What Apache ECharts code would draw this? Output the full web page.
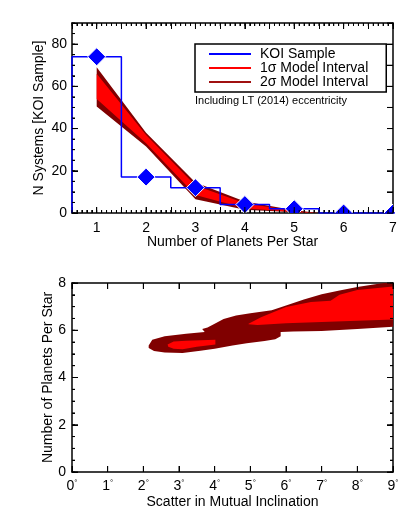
<!DOCTYPE html>
<html>
<head>
<meta charset="utf-8">
<script src="https://cdn.jsdelivr.net/npm/echarts@6/dist/echarts.min.js"></script>
<style>
  html, body { margin: 0; background: #fff; }
  #main { width: 415px; height: 519px; }
</style>
</head>
<body>
<div id="main"></div>
<script>
// top panel: KOI sample histogram
const planetCounts = [1, 2, 3, 4, 5, 6, 7];
const koiSystems = [74, 17, 12, 4, 2, 0, 0];

// model intervals (top panel)
const modelX = [1, 2, 3, 4, 5, 5.5];
const sig2Low = [50.5, 31.5, 6.5, 1.5, 0.3, 0];
const sig2High = [69, 38, 14.5, 5.5, 1.3, 0];
const sig1Low = [54, 33, 8.5, 2.3, 0.5, 0];
const sig1High = [66, 37, 13, 4.6, 1.0, 0];

// bottom panel contours [scatter deg, planets per star]
const contour2Sigma = [
  [2.15, 5.35], [2.25, 5.6], [2.6, 5.75], [3.2, 5.85], [3.72, 5.93], [3.65, 6.05],
  [3.8, 6.12], [4.0, 6.28], [4.25, 6.48], [4.6, 6.62], [5.0, 6.72], [5.6, 6.85],
  [6.0, 7.05], [6.5, 7.3], [7.0, 7.52], [7.5, 7.68], [8.0, 7.83], [8.5, 7.95], [9.0, 8.05],
  [9.0, 6.15], [8.0, 6.05], [7.0, 5.97], [6.2, 5.95], [5.85, 5.93], [5.85, 5.75],
  [5.7, 5.62], [5.4, 5.55], [4.9, 5.45], [4.5, 5.35], [4.0, 5.22], [3.6, 5.13],
  [3.1, 5.04], [2.6, 5.06], [2.3, 5.12], [2.15, 5.25]
];
const contour1SigmaA = [
  [2.68, 5.4], [2.85, 5.52], [3.2, 5.56], [4.02, 5.6], [4.02, 5.4], [3.5, 5.3],
  [3.1, 5.2], [2.85, 5.22], [2.7, 5.3]
];
const contour1SigmaB = [
  [4.95, 6.27], [5.3, 6.55], [6.0, 6.98], [6.7, 7.2], [7.25, 7.25], [7.5, 7.5],
  [8.0, 7.7], [8.5, 7.78], [9.0, 7.85], [9.0, 6.45], [8.0, 6.4], [7.0, 6.35],
  [6.0, 6.3], [5.2, 6.22], [4.95, 6.25]
];

// tick marks per panel
const topXTicks = { from: 0.5, to: 7, major: 1, minor: 0.1 };
const topYTicks = { from: 0, to: 90, major: 20, minor: 5, right: 10 };
const botXTicks = { from: 0, to: 9, major: 1, minor: null };
const botYTicks = { from: 0, to: 8, major: 2, minor: 0.5, right: 2 };

const BLUE = "#0000ff";
const RED = "#ff0000";
const DARK = "#800000";
const FONT = "Liberation Sans";

// step outline of the histogram
const histPoints = [[planetCounts[0] - 0.5, 0]];
planetCounts.forEach((n, i) => {
  histPoints.push([n - 0.5, koiSystems[i]]);
  histPoints.push([n + 0.5, koiSystems[i]]);
});

const bandPoints = (xs, lo, hi) =>
  xs.map((x, i) => [x, hi[i]]).concat(xs.map((x, i) => [x, lo[i]]).reverse());

const polygonSeries = (name, pts, color, axisIdx) => ({
  name: name,
  type: "custom",
  xAxisIndex: axisIdx,
  yAxisIndex: axisIdx,
  clip: true,
  z: 1,
  data: [0],
  renderItem: (params, api) => ({
    type: "polygon",
    shape: { points: pts.map((p) => api.coord(p)) },
    style: { fill: color },
  }),
});

// tick list: [value, side, length]; side 0 bottom, 1 top, 2 left, 3 right
const stepValues = (from, to, step) => {
  const out = [];
  if (!step) return out;
  const start = Math.ceil(from / step - 1e-9) * step;
  for (let v = start; v <= to + 1e-9; v += step) out.push(Math.round(v * 1000) / 1000);
  return out;
};
const tickItems = (xt, yt) => {
  const items = [];
  stepValues(xt.from, xt.to, xt.major).forEach((v) => items.push([v, 0, 6], [v, 1, 6]));
  stepValues(xt.from, xt.to, xt.minor).forEach((v) => items.push([v, 0, 3], [v, 1, 3]));
  stepValues(yt.from, yt.to, yt.major).forEach((v) => items.push([v, 2, 6]));
  stepValues(yt.from, yt.to, yt.minor).forEach((v) => items.push([v, 2, 3]));
  stepValues(yt.from, yt.to, yt.right).forEach((v) => items.push([v, 3, 6]));
  if (yt.right === yt.major) stepValues(yt.from, yt.to, yt.minor).forEach((v) => items.push([v, 3, 3]));
  return items;
};

// ticks as thin filled rectangles pointing into the plot
const tickSeries = (axisIdx, xt, yt) => ({
  type: "custom",
  xAxisIndex: axisIdx,
  yAxisIndex: axisIdx,
  silent: true,
  clip: false,
  z: 20,
  data: tickItems(xt, yt),
  renderItem: (params, api) => {
    const cs = params.coordSys;
    const v = api.value(0);
    const side = api.value(1);
    const len = api.value(2);
    if (side < 2) {
      const x = api.coord([v, yt.from])[0];
      const y = side === 0 ? cs.y + cs.height - len : cs.y;
      return { type: "rect", shape: { x: x - 0.5, y: y, width: 1, height: len }, style: { fill: "#000" } };
    }
    const y = api.coord([xt.from, v])[1];
    const x = side === 2 ? cs.x : cs.x + cs.width - len;
    return { type: "rect", shape: { x: x, y: y - 0.5, width: len, height: 1 }, style: { fill: "#000" } };
  },
});

const tickStyle = { color: "#000", width: 1 };
const nameStyle = { color: "#000", fontSize: 14, fontFamily: FONT };

const makeAxis = (opts) => Object.assign({
  type: "value",
  nameMoveOverlap: false,
  axisLine: { show: true, onZero: false, lineStyle: { color: "#000", width: 1.5 } },
  axisTick: { show: true, inside: true, length: 6, lineStyle: tickStyle },
  minorTick: { show: false },
  splitLine: { show: false },
  axisLabel: { show: false },
}, opts);

const minor = (n) => ({ show: true, splitNumber: n, length: 3, lineStyle: tickStyle });

const chart = echarts.init(document.getElementById("main"));

const option = {
  animation: false,
  textStyle: { fontFamily: FONT },
  grid: [
    { left: 72, top: 23, width: 321, height: 190 },
    { left: 72, top: 283, width: 321, height: 189 },
  ],
  xAxis: [
    makeAxis({
      gridIndex: 0, min: 0.5, max: 7, interval: 0.5, minorTick: minor(5),
      axisLabel: {
        color: "#000", fontSize: 14, fontFamily: FONT, margin: 8,
        formatter: (v) => (Number.isInteger(v) ? String(v) : ""),
      },
      name: "Number of Planets Per Star", nameLocation: "middle", nameGap: 22,
      nameTextStyle: nameStyle,
    }),
    makeAxis({ gridIndex: 0, position: "top", min: 0.5, max: 7, interval: 0.5, minorTick: minor(5) }),
    makeAxis({
      gridIndex: 1, min: 0, max: 9, interval: 1,
      axisLabel: {
        color: "#000", fontSize: 14, fontFamily: FONT, margin: 7,
        formatter: (v) => v + "{d|°}",
        rich: { d: { fontSize: 8, verticalAlign: "top", padding: [0, 0, 6, 0] } },
      },
      name: "Scatter in Mutual Inclination", nameLocation: "middle", nameGap: 23,
      nameTextStyle: nameStyle,
    }),
    makeAxis({ gridIndex: 1, position: "top", min: 0, max: 9, interval: 1 }),
  ],
  yAxis: [
    makeAxis({
      gridIndex: 0, min: 0, max: 90, interval: 20, minorTick: minor(4),
      axisLabel: { color: "#000", fontSize: 14, fontFamily: FONT, margin: 5, showMaxLabel: false },
      name: "N Systems [KOI Sample]", nameLocation: "middle", nameGap: 26,
      nameTextStyle: nameStyle,
    }),
    makeAxis({ gridIndex: 0, position: "right", min: 0, max: 90, interval: 10 }),
    makeAxis({
      gridIndex: 1, min: 0, max: 8, interval: 2, minorTick: minor(4),
      axisLabel: { color: "#000", fontSize: 14, fontFamily: FONT, margin: 6 },
      name: "Number of Planets Per Star", nameLocation: "middle", nameGap: 17,
      nameTextStyle: nameStyle,
    }),
    makeAxis({ gridIndex: 1, position: "right", min: 0, max: 8, interval: 2, minorTick: minor(4) }),
  ],
  legend: {
    left: 195, top: 44,
    orient: "vertical",
    selectedMode: false,
    padding: [3, 18, 3, 14],
    itemGap: 0,
    itemWidth: 42, itemHeight: 2,
    borderColor: "#000", borderWidth: 1.5,
    backgroundColor: "#fff",
    textStyle: { color: "#000", fontSize: 14, fontFamily: FONT, lineHeight: 12, padding: [0, 0, 0, 4] },
    data: [
      { name: "KOI Sample", icon: "rect", itemStyle: { color: BLUE } },
      { name: "1σ Model Interval", icon: "rect", itemStyle: { color: RED } },
      { name: "2σ Model Interval", icon: "rect", itemStyle: { color: "#a01010" } },
    ],
  },
  graphic: [
    {
      type: "text", left: 195, top: 95,
      style: { text: "Including LT (2014) eccentricity", fill: "#000", fontSize: 11, fontFamily: FONT },
    },
  ],
  series: [
    polygonSeries("2σ Model Interval", bandPoints(modelX, sig2Low, sig2High), DARK, 0),
    polygonSeries("1σ Model Interval", bandPoints(modelX, sig1Low, sig1High), RED, 0),
    {
      name: "KOI Sample",
      type: "line",
      xAxisIndex: 0, yAxisIndex: 0,
      data: histPoints,
      showSymbol: false,
      clip: true,
      z: 2,
      lineStyle: { color: BLUE, width: 1.5 },
      itemStyle: { color: BLUE },
    },
    {
      name: "KOI points",
      type: "custom",
      xAxisIndex: 0, yAxisIndex: 0,
      clip: true,
      z: 3,
      data: planetCounts.map((n, i) => [n, koiSystems[i]]),
      renderItem: (params, api) => {
        const c = api.coord([api.value(0), api.value(1)]);
        const r = 9;
        return {
          type: "polygon",
          shape: { points: [[c[0], c[1] - r], [c[0] + r, c[1]], [c[0], c[1] + r], [c[0] - r, c[1]]] },
          style: { fill: BLUE, stroke: "#fff", lineWidth: 1 },
        };
      },
    },
    polygonSeries("2σ contour", contour2Sigma, DARK, 2),
    polygonSeries("1σ contour a", contour1SigmaA, RED, 2),
    polygonSeries("1σ contour b", contour1SigmaB, RED, 2),
    tickSeries(0, topXTicks, topYTicks),
    tickSeries(2, botXTicks, botYTicks),
  ],
};

chart.setOption(option);
window.addEventListener("resize", () => chart.resize());
</script>
</body>
</html>
